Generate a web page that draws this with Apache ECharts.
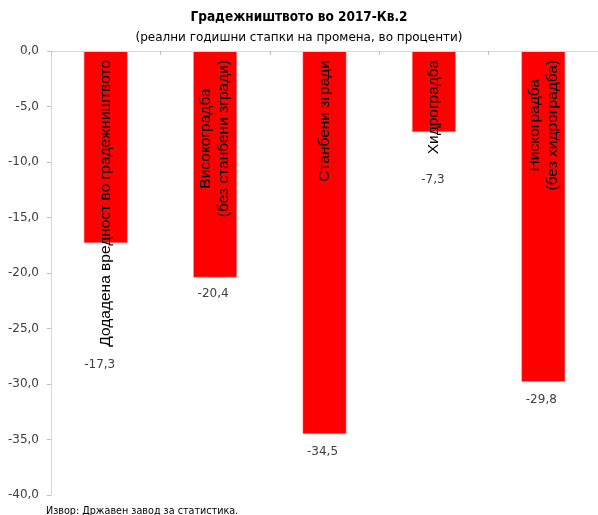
<!DOCTYPE html>
<html>
<head>
<meta charset="utf-8">
<script src="https://cdn.jsdelivr.net/npm/echarts@6/dist/echarts.min.js"></script>
<style>
html,body{margin:0;padding:0;background:#fff;}
#chart{width:598px;height:515px;}
</style>
</head>
<body>
<div id="chart"></div>
<script>
var categories = [
  "Додадена вредност во градежништвото",
  "Високоградба\n(без станбени згради)",
  "Станбени згради",
  "Хидроградба",
  "Нискоградба\n(без хидроградба)"
];
var values = [-17.3, -20.4, -34.5, -7.3, -29.8];
var yTicks = { min: -40, max: 0, interval: 5 };
var titleText = "Градежништвото во 2017-Кв.2";
var subtitleText = "(реални годишни стапки на промена, во проценти)";
var sourceText = "Извор: Државен завод за статистика.";

// label gaps (layout only)
var labelGap = [116, 10, 12, 42, 12];
var labelShift = [-6, -2, -2, -1, -2];

function comma(v) { return v.toFixed(1).replace('.', ','); }

var chart = echarts.init(document.getElementById('chart'), null, { renderer: 'canvas' });

var seriesData = values.map(function (v, i) {
  return { value: v, label: { distance: labelGap[i], offset: [labelShift[i], 0] } };
});

chart.setOption({
  backgroundColor: '#ffffff',
  animation: false,
  title: [
    {
      text: titleText,
      subtext: subtitleText,
      left: 'center',
      top: 5,
      itemGap: 8,
      textStyle: { fontFamily: 'DejaVu Sans Condensed', fontWeight: 'bold', fontSize: 13.5, color: '#000' },
      subtextStyle: { fontFamily: 'DejaVu Sans', fontSize: 12, color: '#000' }
    },
    {
      text: sourceText,
      left: 41,
      top: 501,
      textStyle: { fontFamily: 'DejaVu Sans Condensed', fontWeight: 'normal', fontSize: 10.7, color: '#000' }
    }
  ],
  grid: { left: 51, top: 51, width: 553, height: 444, containLabel: false },
  xAxis: {
    type: 'category',
    data: categories,
    position: 'top',
    z: 10,
    axisLine: { show: true, onZero: false, lineStyle: { color: '#d9d9d9', width: 1 } },
    axisTick: { show: true, inside: true, length: 4, lineStyle: { color: '#bfbfbf' } },
    axisLabel: {
      show: true,
      inside: true,
      rotate: -90,
      margin: 9,
      interval: 0,
      fontFamily: 'Liberation Sans',
      fontSize: 15.5,
      color: '#000',
      lineHeight: 18,
      formatter: function (val) {
        return val.split('\n').map(function (l) { return '{c|' + l + '}'; }).join('\n');
      },
      rich: { c: { align: 'center', fontFamily: 'Liberation Sans', fontSize: 15.5, lineHeight: 18, color: '#000' } }
    },
    splitLine: { show: false }
  },
  yAxis: {
    type: 'value',
    min: yTicks.min,
    max: yTicks.max,
    interval: yTicks.interval,
    axisLine: { show: true, lineStyle: { color: '#d9d9d9', width: 1 } },
    axisTick: { show: true, length: 4, lineStyle: { color: '#bfbfbf' } },
    axisLabel: {
      margin: 12,
      fontFamily: 'DejaVu Sans',
      fontSize: 12,
      color: '#404040',
      formatter: function (v) { return comma(v); }
    },
    splitLine: { show: false }
  },
  series: [{
    type: 'bar',
    data: seriesData,
    barWidth: '40%',
    itemStyle: { color: '#ff0000', borderColor: '#ff9a9a', borderWidth: 0.5 },
    z: 1,
    label: {
      show: true,
      position: 'bottom',
      fontFamily: 'DejaVu Sans',
      fontSize: 12,
      color: '#404040',
      formatter: function (p) { return comma(p.value); }
    }
  }]
});
</script>
</body>
</html>
